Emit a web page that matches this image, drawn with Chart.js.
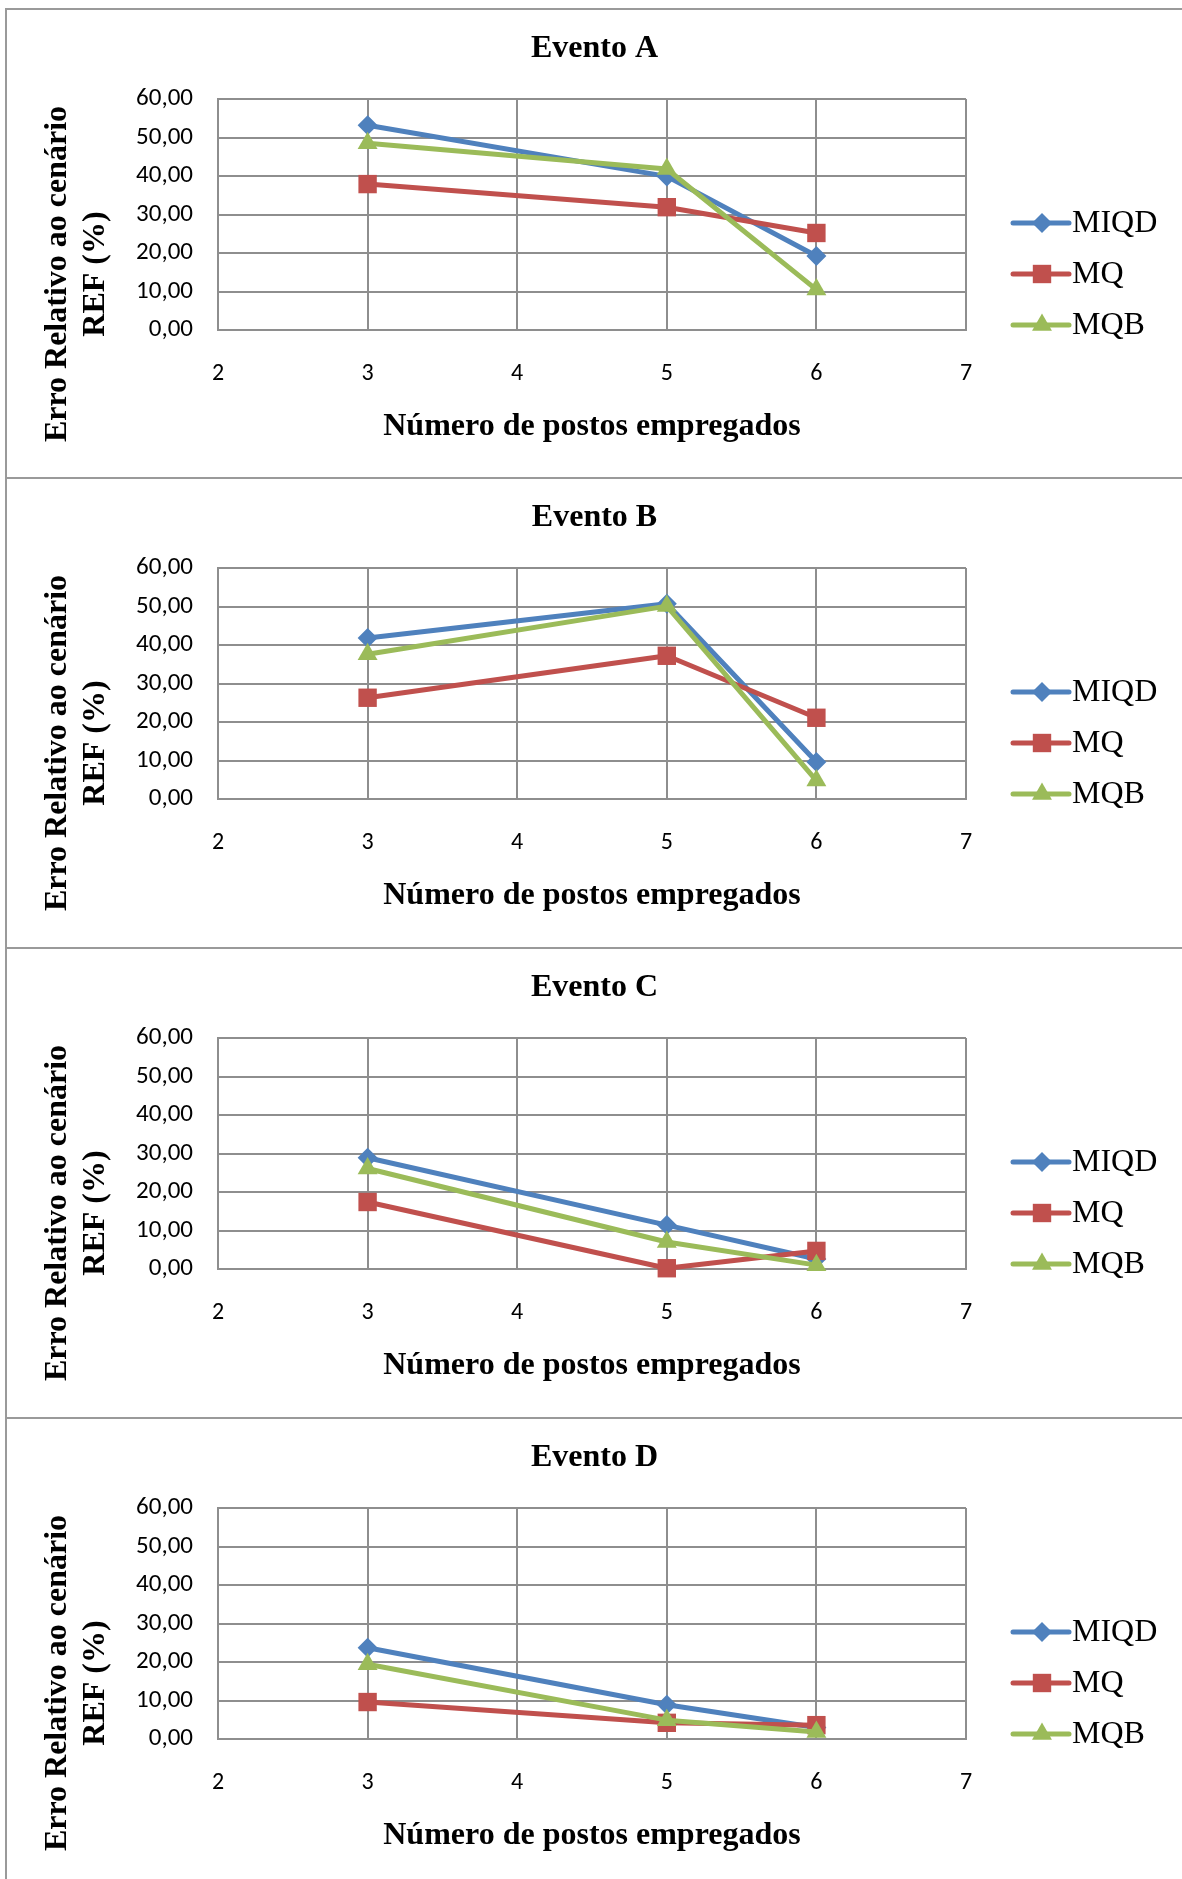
<!DOCTYPE html>
<html>
<head>
<meta charset="utf-8">
<script src="https://cdn.jsdelivr.net/npm/chart.js@4.4.1/dist/chart.umd.min.js"></script>
<style>
html, body { margin: 0; padding: 0; background: #fff; overflow: hidden; width: 1182px; height: 1879px; }
.painel { position: absolute; left: 5px; width: 1177px; height: 470px; box-sizing: border-box;
  border-top: 2px solid #9a9a9a; border-left: 2px solid #9a9a9a; background: #fff; }
.painel canvas { display: block; }
</style>
</head>
<body>
<div class="painel" style="top:8px"><canvas id="gA" width="1175" height="468"></canvas></div>
<div class="painel" style="top:477px"><canvas id="gB" width="1175" height="468"></canvas></div>
<div class="painel" style="top:947px"><canvas id="gC" width="1175" height="468"></canvas></div>
<div class="painel" style="top:1417px"><canvas id="gD" width="1175" height="468"></canvas></div>

<script>
// numero de postos (eixo x)
const postos = [3, 5, 6];
const xTicks = [2, 3, 4, 5, 6, 7];
const yTicks = [0, 10, 20, 30, 40, 50, 60];

// Evento A
const miqdA = [53.2, 39.9, 19.2];
const mqA = [37.9, 31.9, 25.2];
const mqbA = [48.5, 41.8, 10.5];
// Evento B
const miqdB = [41.8, 50.7, 9.6];
const mqB = [26.3, 37.2, 21.1];
const mqbB = [37.6, 50.1, 4.8];
// Evento C
const miqdC = [28.9, 11.4, 2.6];
const mqC = [17.4, 0.2, 4.7];
const mqbC = [26.1, 7.0, 1.0];
// Evento D
const miqdD = [23.7, 8.9, 3.0];
const mqD = [9.6, 4.2, 3.6];
const mqbD = [19.4, 4.9, 1.8];

const series = ['MIQD', 'MQ', 'MQB'];
const cores = ['#4F81BD', '#C0504D', '#9BBB59'];
const marcadores = ['rectRot', 'rect', 'triangle'];
const raios = [10, 13, 11.5];

const tituloX = 'Número de postos empregados';
const tituloY = ['Erro Relativo ao cenário', 'REF (%)'];

const serif = '"Liberation Serif", "Times New Roman", serif';
const sans = 'Carlito, "Liberation Sans", Arial, sans-serif';
const cinza = '#8e8e8e';

function marcador(ctx, estilo, r, x, y) {
    ctx.beginPath();
    if (estilo === 'rectRot') {
        ctx.moveTo(x, y - r); ctx.lineTo(x + r, y); ctx.lineTo(x, y + r); ctx.lineTo(x - r, y);
    } else if (estilo === 'rect') {
        const s = r * Math.SQRT1_2;
        ctx.rect(x - s, y - s, 2 * s, 2 * s);
    } else {
        ctx.moveTo(x, y - r);
        ctx.lineTo(x + r * Math.sin(2 * Math.PI / 3), y - r * Math.cos(2 * Math.PI / 3));
        ctx.lineTo(x + r * Math.sin(4 * Math.PI / 3), y - r * Math.cos(4 * Math.PI / 3));
    }
    ctx.closePath();
    ctx.fill();
}

// titulo, titulo do eixo y e legenda desenhados a parte
const extras = {
    id: 'extras',
    afterDraw(chart) {
        const ctx = chart.ctx;
        ctx.save();
        ctx.fillStyle = '#000';
        ctx.textAlign = 'center';
        ctx.textBaseline = 'middle';
        ctx.font = 'bold 32px ' + serif;
        ctx.fillText(chart.options.plugins.title.text, chart.width / 2, 39);

        ctx.font = 'bold 32px ' + serif;
        tituloY.forEach((t, i) => {
            ctx.save();
            ctx.translate(51 + i * 38, 264);
            ctx.rotate(-Math.PI / 2);
            ctx.fillText(t, 0, 0);
            ctx.restore();
        });

        chart.data.datasets.forEach((ds, i) => {
            const y = 213 + i * 51;
            ctx.strokeStyle = ds.borderColor;
            ctx.fillStyle = ds.borderColor;
            ctx.lineWidth = 5;
            ctx.lineCap = 'round';
            ctx.beginPath();
            ctx.moveTo(1006, y);
            ctx.lineTo(1062, y);
            ctx.stroke();
            marcador(ctx, ds.pointStyle, ds.pointRadius, 1035, y);
            ctx.fillStyle = '#000';
            ctx.font = '32px ' + serif;
            ctx.textAlign = 'left';
            ctx.fillText(ds.label, 1065, y + 1);
        });
        ctx.restore();
    }
};

function criarGrafico(id, titulo, valores) {
    const ctx = document.getElementById(id);
    new Chart(ctx, {
        type: 'line',
        data: {
            datasets: series.map((nome, i) => ({
                label: nome,
                data: postos.map((x, j) => ({ x: x, y: valores[i][j] })),
                borderColor: cores[i],
                backgroundColor: cores[i],
                pointBackgroundColor: cores[i],
                pointBorderColor: cores[i],
                pointBorderWidth: 0,
                pointStyle: marcadores[i],
                pointRadius: raios[i],
                borderWidth: 5,
                borderJoinStyle: 'round',
                borderCapStyle: 'round',
                tension: 0,
                clip: false,
                order: 3 - i
            }))
        },
        options: {
            responsive: false,
            animation: false,
            layout: { padding: { left: 0, right: 216, top: 89, bottom: 0 } },
            plugins: {
                legend: { display: false },
                tooltip: { enabled: false },
                title: { display: false, text: titulo }
            },
            scales: {
                x: {
                    type: 'linear',
                    min: xTicks[0],
                    max: xTicks[xTicks.length - 1],
                    afterBuildTicks: (s) => { s.ticks = xTicks.map(v => ({ value: v })); },
                    afterFit: (s) => { s.height = 148; },
                    ticks: { color: '#000', font: { family: sans, size: 24 }, padding: 30 },
                    grid: { color: cinza, lineWidth: 2, drawTicks: false },
                    border: { color: cinza, width: 2 },
                    title: {
                        display: true,
                        text: tituloX,
                        color: '#000',
                        font: { family: serif, size: 32, weight: 'bold' },
                        padding: { top: 0, bottom: 32 }
                    }
                },
                y: {
                    min: yTicks[0],
                    max: yTicks[yTicks.length - 1],
                    afterBuildTicks: (s) => { s.ticks = yTicks.map(v => ({ value: v })); },
                    afterFit: (s) => { s.width = 211; },
                    ticks: {
                        color: '#000',
                        font: { family: sans, size: 25 },
                        padding: 25,
                        callback: (v) => v.toFixed(2).replace('.', ',')
                    },
                    grid: { color: cinza, lineWidth: 2, drawTicks: false },
                    border: { color: cinza, width: 2 }
                }
            }
        },
        plugins: [extras]
    });
}

criarGrafico('gA', 'Evento A', [miqdA, mqA, mqbA]);
criarGrafico('gB', 'Evento B', [miqdB, mqB, mqbB]);
criarGrafico('gC', 'Evento C', [miqdC, mqC, mqbC]);
criarGrafico('gD', 'Evento D', [miqdD, mqD, mqbD]);
</script>
</body>
</html>
